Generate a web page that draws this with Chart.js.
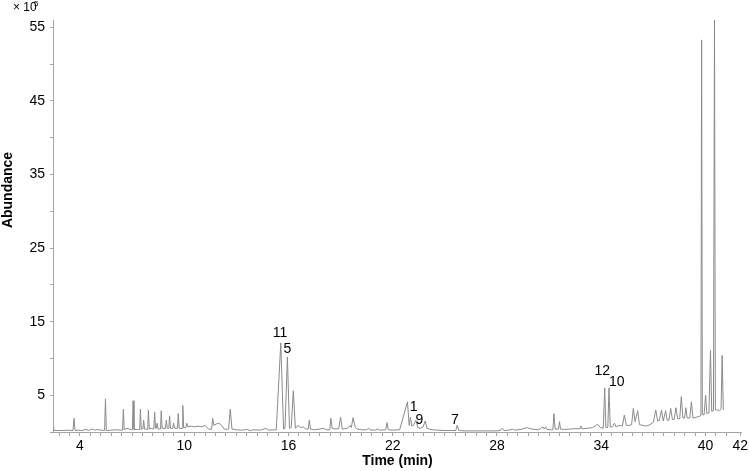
<!DOCTYPE html>
<html>
<head>
<meta charset="utf-8">
<script src="https://cdn.jsdelivr.net/npm/chart.js@4/dist/chart.umd.min.js"></script>
<style>
    body { margin: 0; background: #fff; }
</style>
</head>
<body>
<canvas id="chrom" width="750" height="471"></canvas>
<script>
// retention time (min) and abundance (x 10^5)
const times = [
    2.45, 2.52, 2.9, 3.3, 3.6, 3.66, 3.72, 3.9, 4.1, 4.35, 4.5, 4.7, 4.85, 5.0, 5.2, 5.42, 5.47, 5.52,
    5.8, 6.1, 6.35, 6.45, 6.5, 6.55, 6.7, 6.85, 6.98, 7.02, 7.06, 7.11, 7.3, 7.44, 7.48, 7.53,
    7.62, 7.67, 7.72, 7.9, 7.94, 7.99, 8.1, 8.25, 8.3, 8.35, 8.40, 8.44, 8.5, 8.64, 8.68, 8.73,
    8.92, 8.97, 9.03, 9.12, 9.16, 9.21, 9.34, 9.39, 9.45, 9.61, 9.66, 9.71, 9.88, 9.92, 9.97, 10.1, 10.15, 10.21,
    10.4, 10.6, 10.8, 11.0, 11.2, 11.4, 11.58, 11.64, 11.71, 11.85, 12.0, 12.15, 12.3, 12.5, 12.56, 12.65, 12.75,
    13.0, 13.3, 13.6, 13.8, 14.0, 14.4, 14.7, 14.85, 15.2, 15.3, 15.56, 15.72, 15.8, 15.94, 16.06, 16.16, 16.28, 16.4,
    16.55, 16.7, 16.85, 17.0, 17.14, 17.2, 17.27, 17.5, 17.8, 18.0, 18.2, 18.38, 18.44, 18.52, 18.7, 18.9, 19.0, 19.1,
    19.4, 19.55, 19.62, 19.72, 19.85, 19.95, 20.2, 20.5, 20.6, 20.7, 21.0, 21.15, 21.25, 21.6, 21.67, 21.75, 22.0, 22.3,
    22.4, 22.85, 22.95, 23.02, 23.1, 23.2, 23.33, 23.45, 23.6, 23.75, 23.87, 23.98, 24.1, 24.3, 24.6, 25.0, 25.4, 25.63, 25.72, 25.81,
    26.2, 26.8, 27.4, 27.9, 28.2, 28.3, 28.4, 28.7, 28.9, 29.0, 29.4, 29.7, 30.0, 30.4, 30.65, 30.72, 30.8, 30.88, 31.15, 31.22, 31.28, 31.35, 31.54, 31.6, 31.66,
    31.9, 32.2, 32.5, 32.78, 32.84, 32.9, 33.2, 33.5, 33.8, 33.95, 34.12, 34.2, 34.27, 34.38, 34.45, 34.52, 34.65, 34.76, 34.86, 35.04,
    35.22, 35.33, 35.45, 35.6, 35.75, 35.85, 35.95, 36.1, 36.2, 36.4, 36.6, 36.8, 37.0, 37.14, 37.25, 37.35, 37.47, 37.57, 37.71, 37.8, 37.9, 38.0, 38.1, 38.2, 38.3, 38.4,
    38.52, 38.61, 38.7, 38.8, 38.87, 38.95, 39.1, 39.19, 39.28, 39.45, 39.6, 39.74, 39.78, 39.82, 39.92, 40.01, 40.08, 40.2, 40.29, 40.36, 40.46, 40.52, 40.57, 40.7, 40.8, 40.9, 40.96, 41.03
];
const abundances = [
    0.8, 0.2, 0.2, 0.25, 0.2, 1.86, 0.2, 0.25, 0.2, 0.35, 0.2, 0.4, 0.25, 0.35, 0.25, 0.2, 4.5, 0.2,
    0.25, 0.3, 0.25, 0.25, 3.1, 0.3, 0.5, 0.4, 0.3, 0.3, 4.25, 0.35, 0.35, 0.3, 3.1, 0.4,
    0.4, 1.6, 0.4, 0.35, 3.0, 0.4, 0.5, 0.4, 2.7, 0.5, 0.5, 1.2, 0.4, 0.4, 2.9, 0.5,
    0.5, 1.6, 0.5, 0.5, 2.2, 0.5, 0.5, 1.2, 0.5, 0.5, 2.5, 0.5, 0.5, 3.6, 0.6, 0.6, 1.2, 0.7,
    0.8, 0.7, 0.8, 0.7, 0.9, 0.4, 0.35, 1.86, 0.9, 1.1, 1.2, 0.9, 0.4, 0.35, 0.4, 3.1, 0.4,
    0.3, 0.25, 0.35, 0.2, 0.3, 0.25, 0.5, 0.25, 0.3, 0.3, 12.1, 0.4, 0.5, 10.2, 0.5, 0.6, 5.6, 0.5,
    0.9, 0.6, 0.7, 0.4, 0.4, 1.6, 0.4, 0.3, 0.4, 0.5, 0.3, 0.3, 1.86, 0.5, 0.4, 0.5, 2.0, 0.4,
    0.5, 0.9, 0.6, 1.95, 0.6, 0.4, 0.3, 0.3, 0.5, 0.3, 0.25, 0.4, 0.25, 0.3, 1.27, 0.3, 0.25, 0.3,
    0.3, 4.1, 0.9, 2.0, 0.8, 0.9, 1.6, 0.6, 0.5, 0.7, 1.5, 0.5, 0.4, 0.3, 0.25, 0.2, 0.2, 0.2, 0.95, 0.2,
    0.15, 0.15, 0.15, 0.15, 0.2, 0.5, 0.2, 0.25, 0.4, 0.25, 0.35, 0.6, 0.4, 0.3, 0.7, 0.4, 0.7, 0.35, 0.3, 0.3, 2.5, 0.4, 0.4, 1.4, 0.4,
    0.35, 0.4, 0.45, 0.45, 0.8, 0.45, 0.5, 0.6, 1.05, 0.6, 0.5, 6.0, 0.6, 0.6, 6.0, 0.7, 0.7, 1.2, 0.7, 0.9,
    0.8, 2.3, 0.9, 0.9, 1.0, 3.2, 1.4, 2.9, 1.0, 0.9, 0.8, 1.0, 1.3, 3.0, 1.5, 1.6, 3.0, 1.5, 2.9, 1.6, 1.6, 3.2, 1.7, 1.7, 3.3, 1.8,
    1.8, 4.8, 1.9, 1.9, 3.3, 1.9, 1.9, 4.1, 1.9, 2.0, 2.1, 2.2, 53.3, 2.4, 2.3, 5.0, 2.5, 2.6, 11.1, 2.8, 2.9, 56.0, 3.0, 3.0, 2.9, 3.1, 10.4, 3.0
];

// numbered compounds: label text, time and height of the label (x 10^5)
const peakNames = ['11', '5', '1', '9', '7', '12', '10'];
const peakLabelTimes = [15.52, 15.94, 23.2, 23.54, 25.58, 34.06, 34.9];
const peakLabelHeights = [13.4, 11.2, 3.4, 1.55, 1.55, 8.3, 6.8];

const xTickLabels = [4, 10, 16, 22, 28, 34, 40, 42];
const yTickLabels = [5, 15, 25, 35, 45, 55];

const xMin = 2.45, xMax = 42.1;
const yMin = 0, yMax = 56;

// minor ticks every 0.6 min on x, every 5 units on y
let xTickValues = [];
for (let k = -2; k <= 62; k++) {
    xTickValues.push(Math.round((4 + 0.6 * k) * 100) / 100);
}
xTickValues.push(42);
let yTickValues = [];
for (let v = 0; v <= 55; v += 5) {
    yTickValues.push(v);
}

const points = times.map(function (t, i) {
    return { x: t, y: abundances[i] };
});

const fontFamily = '"Liberation Sans", Arial, sans-serif';
const axisGrey = '#a3a3a3';

function hasLabel(list, v) {
    return list.some(function (l) { return Math.abs(l - v) < 0.01; });
}

const textPlugin = {
    id: 'chromTexts',
    afterDraw: function (chart) {
        const ctx = chart.ctx;
        const xs = chart.scales.x;
        const ys = chart.scales.y;
        const area = chart.chartArea;
        ctx.save();
        ctx.fillStyle = '#000';

        // peak numbers
        ctx.font = '14px ' + fontFamily;
        ctx.textAlign = 'center';
        ctx.textBaseline = 'middle';
        peakNames.forEach(function (name, i) {
            ctx.fillText(name, xs.getPixelForValue(peakLabelTimes[i]), ys.getPixelForValue(peakLabelHeights[i]));
        });

        // x axis title
        ctx.font = 'bold 14px ' + fontFamily;
        ctx.fillText('Time (min)', (area.left + area.right) / 2, 461);

        // y axis title
        ctx.save();
        ctx.translate(8, 190);
        ctx.rotate(-Math.PI / 2);
        ctx.fillText('Abundance', 0, 0);
        ctx.restore();

        // multiplier
        ctx.textAlign = 'left';
        ctx.font = '12px ' + fontFamily;
        ctx.fillText('\u00d7 10', 13, 8);
        ctx.font = '8px ' + fontFamily;
        ctx.fillText('5', 34, 4);
        ctx.restore();
    }
};

new Chart(document.getElementById('chrom'), {
    type: 'line',
    data: {
        datasets: [{
            label: 'TIC',
            data: points,
            borderColor: '#8a8a8a',
            borderWidth: 1,
            pointRadius: 0,
            tension: 0,
            fill: false
        }]
    },
    options: {
        responsive: false,
        animation: false,
        devicePixelRatio: 1,
        layout: { padding: { top: 20, right: 5, left: 0, bottom: 0 } },
        plugins: {
            legend: { display: false },
            tooltip: { enabled: false }
        },
        scales: {
            x: {
                type: 'linear',
                min: xMin,
                max: xMax,
                afterBuildTicks: function (scale) {
                    scale.ticks = xTickValues.map(function (v) { return { value: v }; });
                },
                afterFit: function (scale) { scale.height = 39; },
                ticks: {
                    autoSkip: false,
                    maxRotation: 0,
                    padding: 2,
                    color: '#000',
                    font: { family: fontFamily, size: 14 },
                    callback: function (v) { return hasLabel(xTickLabels, v) ? String(Math.round(v)) : ''; }
                },
                grid: { drawOnChartArea: false, drawTicks: true, tickLength: 4, color: axisGrey },
                border: { display: true, color: axisGrey, width: 1 }
            },
            y: {
                min: yMin,
                max: yMax,
                afterBuildTicks: function (scale) {
                    scale.ticks = yTickValues.map(function (v) { return { value: v }; });
                },
                afterFit: function (scale) { scale.width = 53; },
                ticks: {
                    autoSkip: false,
                    padding: 5,
                    color: '#000',
                    font: { family: fontFamily, size: 14 },
                    callback: function (v) { return hasLabel(yTickLabels, v) ? String(v) : ''; }
                },
                grid: { drawOnChartArea: false, drawTicks: true, tickLength: 3, color: axisGrey },
                border: { display: true, color: axisGrey, width: 1 }
            }
        }
    },
    plugins: [textPlugin]
});
</script>
</body>
</html>
